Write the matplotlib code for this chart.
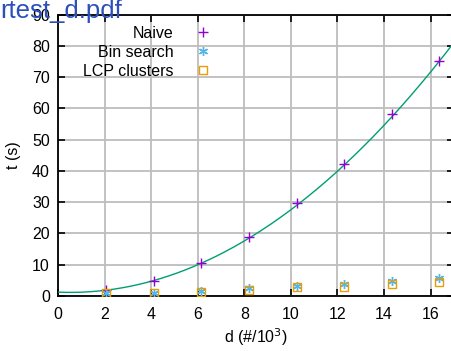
import numpy as np
import matplotlib
matplotlib.use("Agg")
import matplotlib.pyplot as plt

plt.rcParams['font.family'] = ['Liberation Sans', 'DejaVu Sans']
plt.rcParams['font.size'] = 11.5

# problem size in thousands of strings
d = [2.048, 4.096, 6.144, 8.192, 10.24, 12.288, 14.336, 16.384]
naive = [2.0, 4.9, 10.5, 19.0, 29.8, 42.3, 58.3, 75.2]
bin_search = [1.0, 1.0, 1.6, 2.4, 3.3, 3.9, 4.9, 5.8]
lcp_clusters = [0.8, 0.9, 1.4, 2.0, 2.8, 3.0, 3.9, 4.5]

# fitted curve for the naive timings: a*x^2 + b*x + c
fit_a, fit_b, fit_c = 0.294, -0.301, 1.2

xticks = [0, 2, 4, 6, 8, 10, 12, 14, 16]
yticks = [0, 10, 20, 30, 40, 50, 60, 70, 80, 90]

fig = plt.figure(figsize=(4.52, 3.51), dpi=100)
ax = fig.add_axes([0.129, 0.157, 0.875, 0.801])

xs = np.linspace(0, 17, 300)
ax.plot(xs, fit_a * xs**2 + fit_b * xs + fit_c, color='#009e73', lw=1.0,
        zorder=3)

ax.plot(d, naive, ls='none', marker='+', ms=6.5, mew=1.0, color='#9400d3',
        label='Naive', zorder=4)
ax.plot(d, bin_search, ls='none', marker=(6, 2, 0), ms=6.5, mew=1.0,
        color='#56b4e9', label='Bin search', zorder=4)
ax.plot(d, lcp_clusters, ls='none', marker='s', ms=5.5, mew=1.0,
        mfc='none', color='#e69f00', label='LCP clusters', zorder=4)

ax.set_xlim(0, 17)
ax.set_ylim(0, 90)
ax.set_xticks(xticks)
ax.set_yticks(yticks)
ax.grid(True, color='#bdbdbd', lw=1.3)
ax.set_axisbelow(True)
ax.tick_params(direction='in', length=5, width=1.2, top=True, right=True,
               colors='black')
ax.tick_params(axis='x', pad=8)
ax.tick_params(axis='y', pad=6)
for s in ax.spines.values():
    s.set_linewidth(1.3)

ax.set_xlabel('d (#/10$^3$)', labelpad=3)
ax.set_ylabel('t (s)', labelpad=8)

leg = ax.legend(loc='upper left', bbox_to_anchor=(0.035, 1.0), frameon=False,
                markerfirst=False, handlelength=1.0, handletextpad=1.3,
                labelspacing=0.25, borderaxespad=0.3)
for t in leg.get_texts():
    t.set_ha('right')
leg._legend_box.align = 'right'

fig.text(0.0, 0.949, 'rtest_d.pdf', color='#2b4fbd', fontsize=18.5,
         ha='left', va='baseline', zorder=10)

fig.savefig('out.png', dpi=100)
